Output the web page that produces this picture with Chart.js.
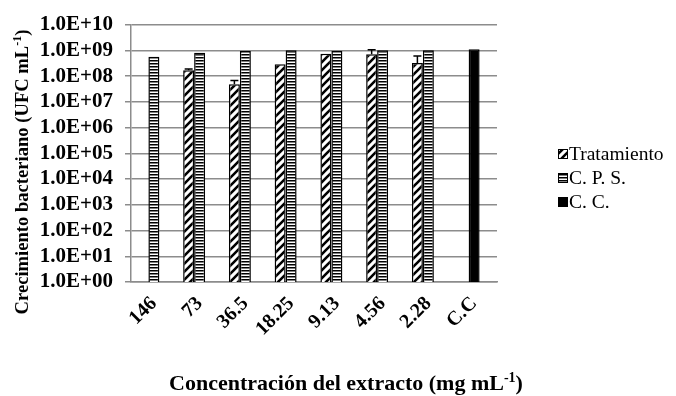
<!DOCTYPE html>
<html>
<head>
<meta charset="utf-8">
<script src="https://cdn.jsdelivr.net/npm/chart.js@4"></script>
<style>
  body { margin: 0; background: #fff; }
  #wrap { position: relative; width: 676px; height: 396px; }
</style>
</head>
<body>
<div id="wrap"><canvas id="myChart"></canvas></div>
<script>
// datos
const labels = ['146', '73', '36.5', '18.25', '9.13', '4.56', '2.28', 'C.C'];
const tratValues = [null, 1.7e8, 4.8e7, 2.9e8, 7.4e8, 7.0e8, 3.2e8, null];
const tratErrTop = [null, 1.9e8, 6.8e7, null, null, 1.05e9, 6.0e8, null];
const cpsValues = [5.6e8, 8.0e8, 9.5e8, 1.0e9, 9.7e8, 1.0e9, 1.0e9, null];
const ccValues = [null, null, null, null, null, null, null, 1.1e9];
const yTicks = [1e0, 1e1, 1e2, 1e3, 1e4, 1e5, 1e6, 1e7, 1e8, 1e9, 1e10];

const serif = 'Liberation Serif';

// tramas
function makeHatch() {
  const c = document.createElement('canvas');
  c.width = 8; c.height = 8;
  const g = c.getContext('2d');
  g.fillStyle = '#fff';
  g.fillRect(0, 0, 8, 8);
  g.strokeStyle = '#000';
  g.lineWidth = 2.6;
  g.beginPath();
  g.moveTo(-2, 10); g.lineTo(10, -2);
  g.moveTo(-2, 2); g.lineTo(2, -2);
  g.moveTo(6, 10); g.lineTo(10, 6);
  g.stroke();
  return g.createPattern(c, 'repeat');
}
function makeHoriz() {
  const c = document.createElement('canvas');
  c.width = 4; c.height = 3;
  const g = c.getContext('2d');
  g.fillStyle = '#fff';
  g.fillRect(0, 0, 4, 3);
  g.fillStyle = '#000';
  g.fillRect(0, 0, 4, 1.5);
  return g.createPattern(c, 'repeat');
}
const hatch = makeHatch();
const horiz = makeHoriz();

function sciLabel(v) {
  const e = Math.round(Math.log10(v));
  return '1.0E+' + String(e).padStart(2, '0');
}

// texto con superíndice "-1"
function drawSupText(ctx, pre, sup, post, size, x, y) {
  const big = 'bold ' + size + 'px "' + serif + '"';
  const small = 'bold ' + Math.round(size * 0.62) + 'px "' + serif + '"';
  ctx.font = big;
  const w1 = ctx.measureText(pre).width;
  const w3 = ctx.measureText(post).width;
  ctx.font = small;
  const w2 = ctx.measureText(sup).width;
  const sx = x - (w1 + w2 + w3) / 2;
  ctx.textAlign = 'left';
  ctx.font = big;
  ctx.fillText(pre, sx, y);
  ctx.font = small;
  ctx.fillText(sup, sx + w1, y - size * 0.38);
  ctx.font = big;
  ctx.fillText(post, sx + w1 + w2, y);
}

const axisTitles = {
  id: 'axis-titles',
  afterDraw(chart) {
    const { ctx } = chart;
    ctx.save();
    ctx.fillStyle = '#000';
    ctx.textBaseline = 'alphabetic';
    drawSupText(ctx, 'Concentración del extracto (mg mL', '-1', ')', 22, 346, 390);
    ctx.translate(28, 172);
    ctx.rotate(-Math.PI / 2);
    drawSupText(ctx, 'Crecimiento bacteriano (UFC mL', '-1', ')', 18.6, 0, 0);
    ctx.restore();
  }
};

const errorBars = {
  id: 'error-bars',
  afterDatasetsDraw(chart) {
    const { ctx } = chart;
    const meta = chart.getDatasetMeta(0);
    const y = chart.scales.y;
    ctx.save();
    ctx.strokeStyle = '#000';
    ctx.lineWidth = 1.5;
    meta.data.forEach((bar, i) => {
      const top = tratErrTop[i];
      if (top == null || tratValues[i] == null) return;
      const yy = y.getPixelForValue(top);
      ctx.beginPath();
      ctx.moveTo(bar.x, bar.y);
      ctx.lineTo(bar.x, yy);
      ctx.moveTo(bar.x - 4, yy);
      ctx.lineTo(bar.x + 4, yy);
      ctx.stroke();
    });
    ctx.restore();
  }
};

const sideLegend = {
  id: 'side-legend',
  afterDraw(chart) {
    const { ctx } = chart;
    const items = chart.data.datasets.filter(d => d.label);
    ctx.save();
    ctx.font = '19.5px "' + serif + '"';
    ctx.textAlign = 'left';
    ctx.textBaseline = 'middle';
    items.forEach((d, i) => {
      const cy = 154 + i * 24;
      ctx.fillStyle = d.backgroundColor;
      ctx.fillRect(558, cy - 5, 10, 10);
      ctx.strokeStyle = '#000';
      ctx.lineWidth = 1;
      ctx.strokeRect(558.5, cy - 4.5, 9, 9);
      ctx.fillStyle = '#000';
      ctx.fillText(d.label, 569, cy + 1);
    });
    ctx.restore();
  }
};

const barStyle = { borderColor: '#000', borderWidth: 1.5, borderSkipped: 'start' };

new Chart(document.getElementById('myChart'), {
  type: 'bar',
  data: {
    labels: labels,
    datasets: [
      { label: 'Tratamiento', data: tratValues, backgroundColor: hatch, stack: 'a', ...barStyle },
      { label: 'C. P. S.', data: cpsValues, backgroundColor: horiz, stack: 'b', ...barStyle },
      { label: 'C. C.', data: ccValues, backgroundColor: '#000', stack: 'b', ...barStyle },
      { label: '', data: labels.map(() => null), backgroundColor: '#fff', stack: 'c' }
    ]
  },
  options: {
    responsive: true,
    maintainAspectRatio: false,
    animation: false,
    categoryPercentage: 0.72,
    barPercentage: 1,
    layout: { padding: { top: 21, right: 179, left: 0, bottom: 0 } },
    plugins: {
      legend: { display: false },
      tooltip: { enabled: false }
    },
    scales: {
      x: {
        grid: { display: false },
        border: { color: '#8c8c8c', width: 1.5 },
        ticks: {
          color: '#000',
          maxRotation: 45,
          minRotation: 45,
          autoSkip: false,
          padding: 2,
          font: { family: serif, size: 20, weight: 'bold' }
        },
        afterFit: s => { s.height = 114; }
      },
      y: {
        type: 'logarithmic',
        min: 1,
        max: 1e10,
        afterBuildTicks: s => { s.ticks = yTicks.map(v => ({ value: v })); },
        grid: { color: '#8c8c8c', lineWidth: 1.5, tickLength: 6 },
        border: { color: '#8c8c8c', width: 1.5 },
        ticks: {
          color: '#000',
          autoSkip: false,
          padding: 12,
          font: { family: serif, size: 21, weight: 'bold' },
          callback: v => sciLabel(v)
        },
        afterFit: s => { s.width = 131; }
      }
    }
  },
  plugins: [errorBars, axisTitles, sideLegend]
});
</script>
</body>
</html>
